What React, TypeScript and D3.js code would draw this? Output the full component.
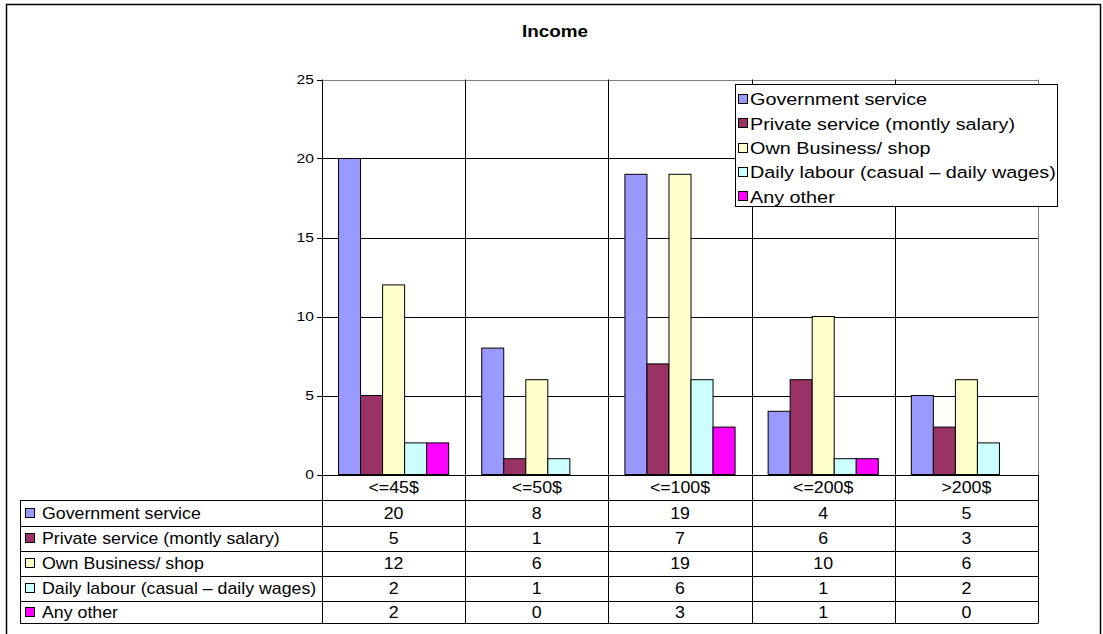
import React from "react";
import * as d3 from "d3";

const categories = ["<=45$", "<=50$", "<=100$", "<=200$", ">200$"];
const seriesNames = [
  "Government service",
  "Private service (montly salary)",
  "Own Business/ shop",
  "Daily labour (casual \u2013 daily wages)",
  "Any other",
];
const governmentService = [20, 8, 19, 4, 5];
const privateService = [5, 1, 7, 6, 3];
const ownBusiness = [12, 6, 19, 10, 6];
const dailyLabour = [2, 1, 6, 1, 2];
const anyOther = [2, 0, 3, 1, 0];
const seriesColors = ["#9999FF", "#993366", "#FFFFCC", "#CCFFFF", "#FF00FF"];
const yTicks = [0, 5, 10, 15, 20, 25];

const seriesValues = [governmentService, privateService, ownBusiness, dailyLabour, anyOther];

const FONT = "'Liberation Sans', Arial, sans-serif";

function SText({ x, y, size, sx, anchor = "start", bold = false, children }: any) {
  return (
    <g transform={`translate(${x},${y}) scale(${sx},1)`}>
      <text
        x={0}
        y={0}
        fontSize={size}
        fontFamily={FONT}
        fontWeight={bold ? "bold" : "normal"}
        textAnchor={anchor}
        dominantBaseline="central"
        fill="#000"
      >
        {children}
      </text>
    </g>
  );
}

export default function App() {
  const W = 1103;
  const H = 634;
  const left = 322;
  const right = 1038;
  const top = 79.5;
  const bottom = 474.5;

  const x = d3.scaleBand<string>().domain(categories).range([left, right]).padding(0);
  const xs = d3
    .scaleBand<number>()
    .domain(d3.range(seriesNames.length))
    .range([0, x.bandwidth()])
    .paddingInner(0)
    .paddingOuter(0.75);
  const y = d3.scaleLinear().domain([0, 25]).range([bottom, top]);

  const tableLeft = 20;
  const rowEdges = [474.5, 500, 525.5, 550.5, 575.5, 600.5, 623];
  const crisp = (v: number) => Math.round(v) + 0.5;

  return (
    <svg
      width={W}
      height={H}
      style={{ position: "absolute", left: 0, top: 0, display: "block", background: "#fff" }}
    >
      <rect x={0} y={0} width={W} height={H} fill="#fff" />
      {/* outer border */}
      <rect x={6.5} y={4.5} width={1094} height={H + 10} fill="none" stroke="#000" strokeWidth={1.5} />

      {/* title */}
      <SText x={555} y={32} size={16} sx={1.18} anchor="middle" bold>
        Income
      </SText>

      {/* horizontal gridlines */}
      {yTicks.map((t) => (
        <line
          key={"g" + t}
          x1={left}
          x2={right}
          y1={crisp(y(t))}
          y2={crisp(y(t))}
          stroke={t === 25 ? "#808080" : "#000"}
          strokeWidth={1}
        />
      ))}
      {/* vertical category separators */}
      {categories.map((c, i) =>
        i === 0 ? null : (
          <line
            key={"v" + c}
            x1={crisp(x(c)!)}
            x2={crisp(x(c)!)}
            y1={top}
            y2={bottom}
            stroke="#000"
            strokeWidth={1}
          />
        )
      )}
      <line x1={crisp(right)} x2={crisp(right)} y1={top} y2={bottom} stroke="#808080" />

      {/* bars */}
      {categories.map((c, ci) =>
        seriesValues.map((vals, si) => {
          const v = vals[ci];
          if (v <= 0) return null;
          const bx = x(c)! + xs(si)!;
          return (
            <rect
              key={c + si}
              x={bx}
              y={y(v)}
              width={xs.bandwidth()}
              height={y(0) - y(v)}
              fill={seriesColors[si]}
              stroke="#000"
              strokeWidth={1}
            />
          );
        })
      )}

      {/* y axis */}
      <line x1={crisp(left)} x2={crisp(left)} y1={top} y2={rowEdges[6]} stroke="#000" />
      {yTicks.map((t) => (
        <g key={"t" + t}>
          <line x1={left - 5} x2={left} y1={crisp(y(t))} y2={crisp(y(t))} stroke="#000" />
          <SText x={314} y={y(t)} size={13.5} sx={1.16} anchor="end">
            {t}
          </SText>
        </g>
      ))}

      {/* data table */}
      {rowEdges.slice(1).map((ry, i) => (
        <line
          key={"r" + i}
          x1={tableLeft}
          x2={right}
          y1={crisp(ry)}
          y2={crisp(ry)}
          stroke="#000"
        />
      ))}
      <line x1={crisp(tableLeft)} x2={crisp(tableLeft)} y1={crisp(rowEdges[1])} y2={crisp(rowEdges[6])} stroke="#000" />
      {categories.map((c) => (
        <line
          key={"tc" + c}
          x1={crisp(x(c)! + x.bandwidth())}
          x2={crisp(x(c)! + x.bandwidth())}
          y1={rowEdges[0]}
          y2={crisp(rowEdges[6])}
          stroke="#000"
        />
      ))}
      {categories.map((c) => (
        <SText key={"cl" + c} x={x(c)! + x.bandwidth() / 2} y={(rowEdges[0] + rowEdges[1]) / 2 + 1} size={16} sx={1.11} anchor="middle">
          {c}
        </SText>
      ))}
      {seriesNames.map((name, si) => {
        const cy = (rowEdges[si + 1] + rowEdges[si + 2]) / 2;
        return (
          <g key={"row" + si}>
            <rect x={25.5} y={Math.round(cy) - 4.5} width={9} height={9} fill={seriesColors[si]} stroke="#000" />
            <SText x={42} y={cy + 1} size={16} sx={1.11}>
              {name}
            </SText>
            {categories.map((c, ci) => (
              <SText key={c} x={x(c)! + x.bandwidth() / 2} y={cy + 1} size={16} sx={1.11} anchor="middle">
                {seriesValues[si][ci]}
              </SText>
            ))}
          </g>
        );
      })}

      {/* legend */}
      <rect x={735.5} y={84.5} width={322} height={122} fill="#fff" stroke="#000" />
      {seriesNames.map((name, si) => {
        const cy = 99 + si * 24.3;
        return (
          <g key={"lg" + si}>
            <rect x={738.5} y={Math.round(cy) - 4.5} width={9} height={9} fill={seriesColors[si]} stroke="#000" />
            <SText x={750} y={cy + 1} size={16.5} sx={1.2}>
              {name}
            </SText>
          </g>
        );
      })}
    </svg>
  );
}
